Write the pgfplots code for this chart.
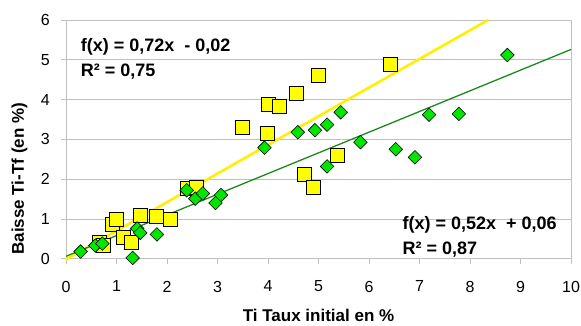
\documentclass[border=0pt]{standalone}
\usepackage{fontspec}
\setmainfont{Liberation Sans}
\usepackage{pgfplots}
\pgfplotsset{compat=1.18}
\definecolor{ysq}{HTML}{FFFF00}
\definecolor{gdm}{HTML}{00E600}
\definecolor{yline}{HTML}{FFF000}
\definecolor{gline}{HTML}{1A8A1A}
\definecolor{gridc}{HTML}{C0C0C0}
\begin{document}
\begin{tikzpicture}
\begin{axis}[
  at={(0,0)}, anchor=south west,
  scale only axis, width=505pt, height=238.7pt,
  xmin=0, xmax=10, ymin=0, ymax=6,
  xtick={0,...,10}, ytick={0,...,6},
  ymajorgrids, grid style={gridc, line width=0.8pt},
  axis line style={gridc, line width=0.8pt},
  tick style={gridc, line width=0.8pt},
  tick align=outside, major tick length=5pt,
  xtick pos=bottom, ytick pos=left,
  ticklabel style={font=\fontsize{16}{18}\selectfont, inner sep=0pt},
  xticklabel style={anchor=north, yshift=-17pt},
  yticklabel style={anchor=east, xshift=-11pt},
  /pgf/number format/assume math mode=true,
  xlabel={\textbf{Ti Taux initial en \%}},
  ylabel={\textbf{Baisse Ti-Tf (en \%)}},
  xlabel style={font=\fontsize{17}{19}\selectfont, at={(axis description cs:0.5,-0.2388)}, anchor=center},
  ylabel style={font=\fontsize{17}{19}\selectfont, at={(axis description cs:-0.0921,0.335)}, anchor=center},
  clip=false,
]
\addplot[only marks, mark=square*, mark size=7pt, mark options={fill=ysq, draw=black, line width=0.6pt}] coordinates {
(0.66,0.40) (0.74,0.33) (0.91,0.87) (0.99,1.00) (1.13,0.53) (1.30,0.42)
(1.48,1.09) (1.79,1.07) (2.07,0.99) (2.40,1.77) (2.58,1.79)
(3.49,3.30) (3.99,3.14) (4.00,3.88) (4.23,3.82) (4.56,4.16) (5.00,4.60)
(6.43,4.88) (4.71,2.12) (4.89,1.79) (5.37,2.60)
};
\addplot[only marks, mark=square*, mark size=4.8pt, mark options={rotate=45, fill=gdm, draw=black, line width=0.6pt}] coordinates {
(0.29,0.18) (0.58,0.33) (0.72,0.38) (1.32,0.02) (1.41,0.76) (1.47,0.65)
(1.80,0.61) (2.39,1.72) (2.56,1.51) (2.71,1.64) (2.96,1.40) (3.07,1.60)
(3.93,2.79) (4.59,3.18) (4.93,3.23) (5.17,3.37) (5.44,3.68) (5.83,2.93)
(5.17,2.32) (6.53,2.75) (6.91,2.55) (7.19,3.62) (7.78,3.64) (8.74,5.12)
};
\addplot[yline, line width=2.6pt, no marks] coordinates {(0,-0.02) (8.36,6.0)};
\addplot[gline, line width=1.3pt, no marks] coordinates {(0,0.06) (10,5.26)};
\node[anchor=west, inner sep=0pt, font=\bfseries\fontsize{18}{20}\selectfont] at (axis cs:0.29,5.33) {f(x) = 0,72x \ - 0,02};
\node[anchor=west, inner sep=0pt, font=\bfseries\fontsize{18}{20}\selectfont] at (axis cs:0.29,4.70) {R² = 0,75};
\node[anchor=west, inner sep=0pt, font=\bfseries\fontsize{18}{20}\selectfont] at (axis cs:6.66,0.845) {f(x) = 0,52x \ + 0,06};
\node[anchor=west, inner sep=0pt, font=\bfseries\fontsize{18}{20}\selectfont] at (axis cs:6.66,0.22) {R² = 0,87};
\end{axis}
\pgfresetboundingbox
\path[use as bounding box] (-66pt,-66.3pt) rectangle (515pt,258.7pt);
\end{tikzpicture}
\end{document}
